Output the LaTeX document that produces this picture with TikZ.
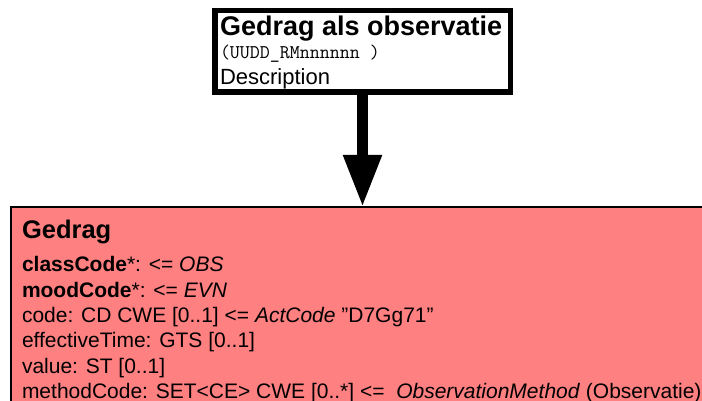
\documentclass[tikz,border=0pt]{standalone}
\usepackage{fontspec}
\setmainfont{Liberation Sans}
\usetikzlibrary{arrows.meta}
\definecolor{clsred}{HTML}{FF8080}

\begin{document}
\begin{tikzpicture}
[x=1pt,y=-1pt,%
  every node/.style={inner sep=0pt,outer sep=0pt},%
  txt/.style={anchor=base west,font=\fontsize{21}{24}\selectfont},%
  head/.style={anchor=base west,font=\bfseries\fontsize{25.5}{28}\selectfont}]
\useasboundingbox (0,0) rectangle (702,401);
\clip (0,0) rectangle (702,401);
%% class box, runs off the page on the right and bottom
\node[draw,fill=clsred,line width=1.2pt,anchor=north west,
  minimum width=800,minimum height=300] (gedrag) at (11,207) {};
%% choice box on top
\node[draw,line width=5.5pt,minimum width=295.5,minimum height=81.5] (obs)
  at (362.5,51.5) {};
\node[head,font=\bfseries\fontsize{27}{29}\selectfont] (obstitle)
  at (220,36) {Gedrag als observatie};
\node[anchor=base west,font=\ttfamily\fontsize{19.4}{21}\selectfont] (obsid)
  at (220,59) {(UUDD\_RMnnnnnn )};
\node[anchor=base west,font=\fontsize{22}{24}\selectfont] (obsdesc)
  at (220,85) {Description};
%% attributes
\node[head] (gtitle) at (22,239) {Gedrag};
\node[txt] (a1) at (22,271) {\textbf{classCode}*: <= \textit{OBS}};
\node[txt] (a2) at (22,297) {\textbf{moodCode}*: <= \textit{EVN}};
\node[txt] (a3) at (22,322) {code: CD CWE [0..1] <= \textit{ActCode} "D7Gg71"};
\node[txt] (a4) at (22,347) {effectiveTime: GTS [0..1]};
\node[txt] (a5) at (22,373) {value: ST [0..1]};
\node[txt] (a6) at (22,398) {methodCode: SET<CE> CWE [0..*] <= \ \textit{ObservationMethod} (Observatie)};
%% choice to class
\draw[line width=11pt,-{Triangle[length=52pt,width=36pt]}]
  (obs.south) -- (obs.south |- gedrag.north);
\end{tikzpicture}
\end{document}
